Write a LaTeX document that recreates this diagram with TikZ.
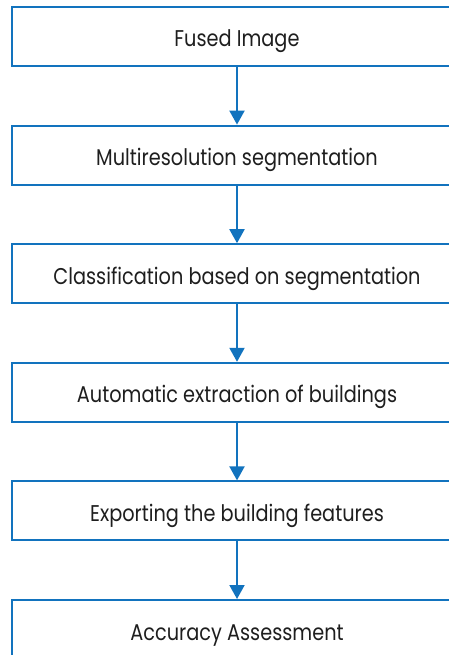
\documentclass[tikz,border=0pt]{standalone}
\usepackage{fontspec}
\usepackage{graphicx}
\setmainfont{Poppins}
\definecolor{flowblue}{RGB}{18,115,190}
\definecolor{flowtext}{RGB}{30,30,30}
\usetikzlibrary{arrows.meta}
\newcommand{\steptext}[1]{\scalebox{1}[1.18]{#1}}
\begin{document}
\begin{tikzpicture}[x=1pt,y=-1pt,
  stepbox/.style={draw=flowblue,line width=2pt,minimum width=450pt,minimum height=59pt,inner sep=0pt,anchor=north west,
    font=\fontsize{19.3}{22}\selectfont,text=flowtext,text height=21pt,text depth=0pt},
  flowarrow/.style={draw=flowblue,line width=2pt,-{Triangle[width=15pt,length=14pt]}}]
\useasboundingbox (0,0) rectangle (449,655);
\clip (0,0) rectangle (449,655);
\node[stepbox] (b1) at (11,6) {\steptext{Fused Image}};
\node[stepbox] (b2) at (11,124.6) {\steptext{Multiresolution segmentation}};
\node[stepbox] (b3) at (11,243.2) {\steptext{Classification based on segmentation}};
\node[stepbox] (b4) at (11,361.8) {\steptext{Automatic extraction of buildings}};
\node[stepbox] (b5) at (11,480.4) {\steptext{Exporting the building features}};
\node[stepbox] (b6) at (11,599) {\steptext{Accuracy Assessment}};
\draw[flowarrow] (b1) -- (b2);
\draw[flowarrow] (b2) -- (b3);
\draw[flowarrow] (b3) -- (b4);
\draw[flowarrow] (b4) -- (b5);
\draw[flowarrow] (b5) -- (b6);
\end{tikzpicture}
\end{document}
